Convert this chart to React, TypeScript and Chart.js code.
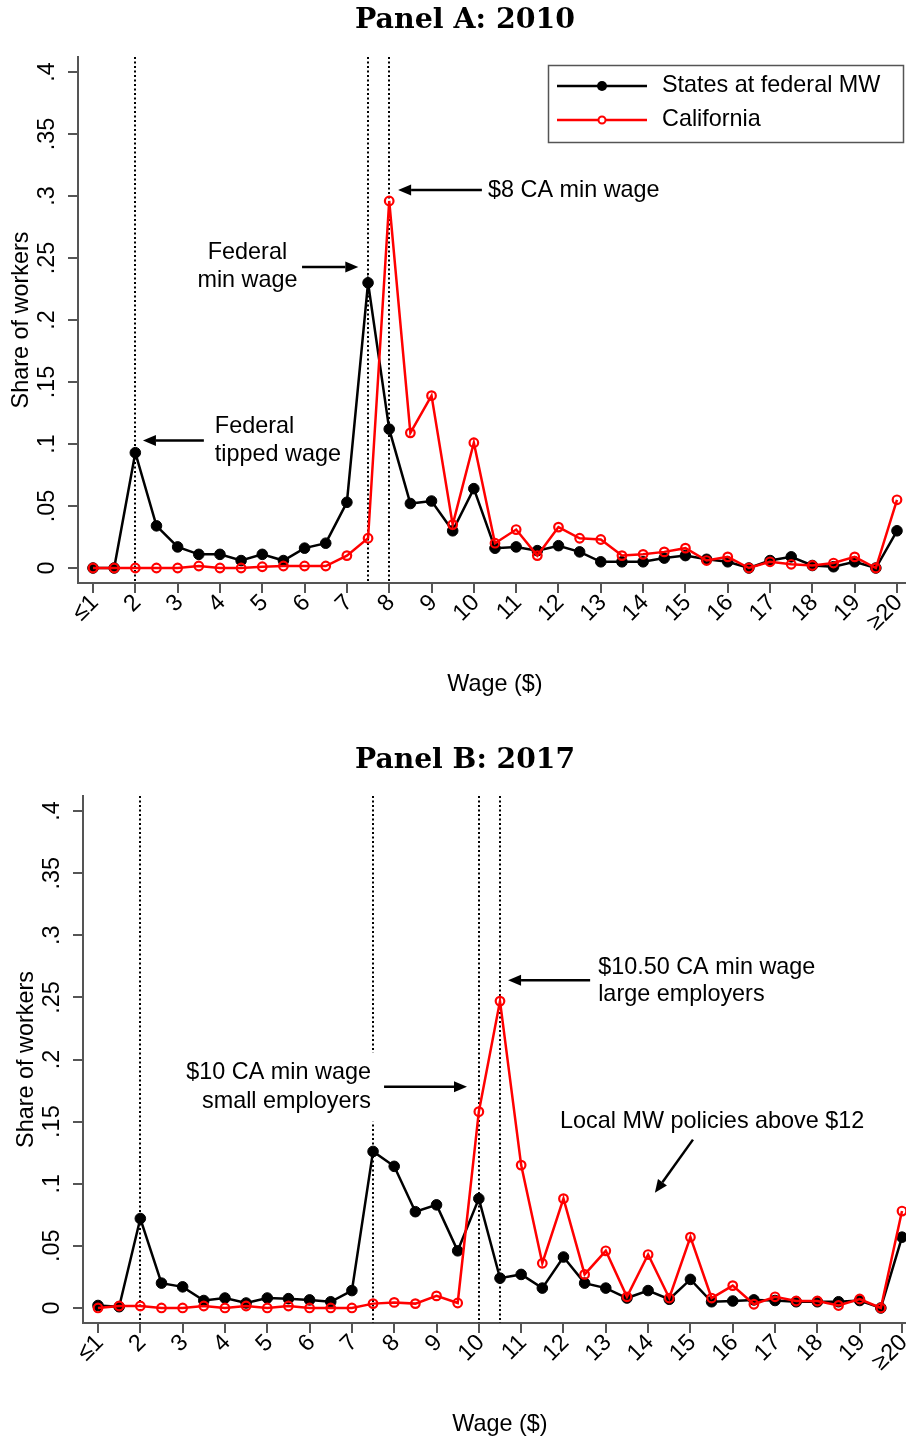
import React, { useEffect, useRef } from "react";
import { Chart, registerables } from "chart.js";

Chart.register(...registerables);

// ---------- data ----------
const wages = [1, 1.5, 2, 2.5, 3, 3.5, 4, 4.5, 5, 5.5, 6, 6.5, 7, 7.5, 8, 8.5, 9, 9.5, 10, 10.5, 11, 11.5, 12, 12.5, 13, 13.5, 14, 14.5, 15, 15.5, 16, 16.5, 17, 17.5, 18, 18.5, 19, 19.5, 20];

const tickWages = [1, 2, 3, 4, 5, 6, 7, 8, 9, 10, 11, 12, 13, 14, 15, 16, 17, 18, 19, 20];
const tickLabels = ["≤1", "2", "3", "4", "5", "6", "7", "8", "9", "10", "11", "12", "13", "14", "15", "16", "17", "18", "19", "≥20"];

const yTicks = [0, 0.05, 0.1, 0.15, 0.2, 0.25, 0.3, 0.35, 0.4];
const yTickLabels = ["0", ".05", ".1", ".15", ".2", ".25", ".3", ".35", ".4"];

const federal2010 = [0.0, 0.0, 0.093, 0.034, 0.017, 0.011, 0.011, 0.006, 0.011, 0.006, 0.016, 0.020, 0.053, 0.230, 0.112, 0.052, 0.054, 0.030, 0.064, 0.016, 0.017, 0.014, 0.018, 0.013, 0.005, 0.005, 0.005, 0.008, 0.010, 0.007, 0.005, 0.0, 0.006, 0.009, 0.002, 0.001, 0.005, 0.0, 0.030];
const california2010 = [0.0, 0.0, 0.0, 0.0, 0.0, 0.0016, 0.0, 0.0, 0.001, 0.0016, 0.0016, 0.0016, 0.010, 0.024, 0.296, 0.109, 0.139, 0.035, 0.101, 0.020, 0.031, 0.010, 0.033, 0.024, 0.023, 0.010, 0.011, 0.013, 0.016, 0.006, 0.009, 0.0, 0.005, 0.003, 0.002, 0.004, 0.009, 0.0, 0.055];

const federal2017 = [0.002, 0.001, 0.072, 0.020, 0.017, 0.006, 0.008, 0.004, 0.008, 0.0075, 0.0065, 0.005, 0.014, 0.126, 0.114, 0.0775, 0.083, 0.046, 0.088, 0.024, 0.027, 0.016, 0.041, 0.020, 0.016, 0.008, 0.014, 0.007, 0.023, 0.005, 0.0056, 0.0065, 0.006, 0.005, 0.005, 0.005, 0.006, 0.0, 0.057];
const california2017 = [0.0, 0.0016, 0.0016, 0.0, 0.0, 0.0016, 0.0, 0.0016, 0.0, 0.0016, 0.0, 0.0, 0.0, 0.0035, 0.0045, 0.0035, 0.0097, 0.004, 0.158, 0.247, 0.115, 0.036, 0.088, 0.027, 0.046, 0.009, 0.043, 0.008, 0.057, 0.008, 0.018, 0.003, 0.009, 0.0056, 0.0056, 0.002, 0.0072, 0.0, 0.078];

const seriesNames = ["States at federal MW", "California"];
const vlines2010 = [2, 7.5, 8];
const vlines2017 = [2, 7.5, 10, 10.5];

type Note = {
  lines: string[];
  x: number;
  y: number[];
  align: CanvasTextAlign;
  from: [number, number];
  to: [number, number];
  box?: boolean;
};

const notes2010: Note[] = [
  { lines: ["$8 CA min wage"], x: 10.334, y: [0.3048], align: "left", from: [10.19, 0.3048], to: [8.21, 0.3048] },
  { lines: ["Federal", "min wage"], x: 4.65, y: [0.254, 0.232], align: "center", from: [5.94, 0.2427], to: [7.27, 0.2427] },
  { lines: ["Federal", "tipped wage"], x: 3.88, y: [0.1137, 0.0911], align: "left", from: [3.62, 0.1028], to: [2.18, 0.1028] },
];
const notes2017: Note[] = [
  { lines: ["$10.50 CA min wage", "large employers"], x: 12.82, y: [0.274, 0.2524], align: "left", from: [12.63, 0.2637], to: [10.69, 0.2637] },
  { lines: ["$10 CA min wage", "small employers"], x: 7.45, y: [0.1895, 0.166], align: "right", from: [7.76, 0.178], to: [9.72, 0.178], box: true },
  { lines: ["Local MW policies above $12"], x: 11.92, y: [0.15], align: "left", from: [15.06, 0.1355], to: [14.16, 0.0927] },
];

// ---------- styling ----------
const AXIS = "#555555";
const FONT = "23.4px 'Liberation Sans', Arial, sans-serif";
const TITLE_FONT = "bold 27.5px 'DejaVu Serif', serif";
const RED = "#ff0000";
const X_MIN = 0.6455;
const X_MAX = 20.3545;
const Y_MIN = -0.0121;
const Y_MAX = 0.4121;

type PanelProps = {
  title: string;
  federal: number[];
  california: number[];
  vlines: number[];
  notes: Note[];
  legend: boolean;
  width: number;
  height: number;
  top: number;
  plotLeft: number;
  plotTop: number;
  plotRight: number;
  plotBottom: number;
};

function drawArrow(ctx: CanvasRenderingContext2D, x1: number, y1: number, x2: number, y2: number) {
  const ang = Math.atan2(y2 - y1, x2 - x1);
  const headLen = 13;
  const headHalf = 5.5;
  const bx = x2 - headLen * Math.cos(ang);
  const by = y2 - headLen * Math.sin(ang);
  ctx.save();
  ctx.strokeStyle = "#000";
  ctx.fillStyle = "#000";
  ctx.lineWidth = 2.5;
  ctx.beginPath();
  ctx.moveTo(x1, y1);
  ctx.lineTo(bx, by);
  ctx.stroke();
  ctx.beginPath();
  ctx.moveTo(x2, y2);
  ctx.lineTo(bx + headHalf * Math.sin(ang), by - headHalf * Math.cos(ang));
  ctx.lineTo(bx - headHalf * Math.sin(ang), by + headHalf * Math.cos(ang));
  ctx.closePath();
  ctx.fill();
  ctx.restore();
}

function Panel(p: PanelProps) {
  const ref = useRef<HTMLCanvasElement | null>(null);

  useEffect(() => {
    if (!ref.current) return;

    const overlay = {
      id: "overlay",
      beforeDatasetsDraw(chart: any) {
        const { ctx, chartArea, scales } = chart;
        const xs = scales.x;
        const ys = scales.y;
        ctx.save();
        ctx.strokeStyle = "#000";
        ctx.lineWidth = 2;
        ctx.setLineDash([2, 2.5]);
        for (const v of p.vlines) {
          const px = Math.round(xs.getPixelForValue(v));
          ctx.beginPath();
          ctx.moveTo(px, chartArea.top);
          ctx.lineTo(px, chartArea.bottom);
          ctx.stroke();
        }
        ctx.restore();
        // white boxes behind some notes
        ctx.save();
        ctx.font = FONT;
        for (const n of p.notes) {
          if (!n.box) continue;
          const w = Math.max(...n.lines.map((l) => ctx.measureText(l).width));
          const ax = xs.getPixelForValue(n.x);
          let left = ax;
          if (n.align === "right") left = ax - w;
          else if (n.align === "center") left = ax - w / 2;
          const yTop = ys.getPixelForValue(n.y[0]) - 20;
          const yBot = ys.getPixelForValue(n.y[n.y.length - 1]) + 20;
          ctx.fillStyle = "#fff";
          ctx.fillRect(left - 6, yTop, w + 12, yBot - yTop);
        }
        ctx.restore();
      },
      afterDraw(chart: any) {
        const { ctx, chartArea, scales } = chart;
        const xs = scales.x;
        const ys = scales.y;
        ctx.save();
        ctx.fillStyle = "#000";

        // Title
        ctx.font = TITLE_FONT;
        const tw = ctx.measureText(p.title).width;
        ctx.save();
        ctx.translate(465, 21);
        ctx.scale(220 / tw, 1);
        ctx.textAlign = "center";
        ctx.textBaseline = "middle";
        ctx.fillText(p.title, 0, 0);
        ctx.restore();

        ctx.font = FONT;
        // y tick labels
        yTicks.forEach((v, i) => {
          const py = ys.getPixelForValue(v);
          ctx.save();
          ctx.translate(chartArea.left - 30, py);
          ctx.rotate(-Math.PI / 2);
          ctx.textAlign = "center";
          ctx.textBaseline = "middle";
          ctx.fillText(yTickLabels[i], 0, 0);
          ctx.restore();
        });
        // x tick labels
        tickWages.forEach((v, i) => {
          const px = xs.getPixelForValue(v);
          ctx.save();
          ctx.translate(px + 2, chartArea.bottom + 16);
          ctx.rotate(-Math.PI / 4);
          ctx.textAlign = "right";
          ctx.textBaseline = "middle";
          ctx.fillText(tickLabels[i], 0, 0);
          ctx.restore();
        });
        // y title
        ctx.save();
        ctx.translate(chartArea.left - 56, (chartArea.top + chartArea.bottom) / 2);
        ctx.rotate(-Math.PI / 2);
        ctx.textAlign = "center";
        ctx.textBaseline = "middle";
        ctx.fillText("Share of workers", 0, 0);
        ctx.restore();
        // x title
        ctx.textAlign = "center";
        ctx.textBaseline = "middle";
        ctx.fillText("Wage ($)", (chartArea.left + chartArea.right) / 2, chartArea.bottom + 102);

        // notes
        for (const n of p.notes) {
          ctx.textAlign = n.align;
          ctx.textBaseline = "middle";
          const ax = xs.getPixelForValue(n.x);
          n.lines.forEach((l, i) => {
            ctx.fillText(l, ax, ys.getPixelForValue(n.y[i]));
          });
          drawArrow(
            ctx,
            xs.getPixelForValue(n.from[0]),
            ys.getPixelForValue(n.from[1]),
            xs.getPixelForValue(n.to[0]),
            ys.getPixelForValue(n.to[1])
          );
        }

        // legend
        if (p.legend) {
          ctx.strokeStyle = AXIS;
          ctx.lineWidth = 1.5;
          ctx.strokeRect(548.5, 65.5, 355, 77);
          const rows = [86, 120];
          const colors = ["#000", RED];
          rows.forEach((ry, i) => {
            ctx.strokeStyle = colors[i];
            ctx.lineWidth = 2.5;
            ctx.beginPath();
            ctx.moveTo(557, ry);
            ctx.lineTo(647, ry);
            ctx.stroke();
            ctx.beginPath();
            if (i === 0) {
              ctx.fillStyle = "#000";
              ctx.arc(602, ry, 5, 0, Math.PI * 2);
              ctx.fill();
            } else {
              ctx.fillStyle = "#fff";
              ctx.lineWidth = 2;
              ctx.arc(602, ry, 3.5, 0, Math.PI * 2);
              ctx.fill();
              ctx.stroke();
            }
            ctx.fillStyle = "#000";
            ctx.textAlign = "left";
            ctx.textBaseline = "middle";
            ctx.fillText(seriesNames[i], 662, ry);
          });
        }
        ctx.restore();
      },
    };

    const chart = new Chart(ref.current, {
      type: "line",
      data: {
        datasets: [
          {
            label: seriesNames[0],
            data: wages.map((w, i) => ({ x: w, y: p.federal[i] })),
            borderColor: "#000",
            backgroundColor: "#000",
            borderWidth: 2.5,
            pointRadius: 5.3,
            pointBorderWidth: 1,
            pointBackgroundColor: "#000",
            pointBorderColor: "#000",
            tension: 0,
            order: 2,
          },
          {
            label: seriesNames[1],
            data: wages.map((w, i) => ({ x: w, y: p.california[i] })),
            borderColor: RED,
            backgroundColor: "rgba(0,0,0,0)",
            borderWidth: 2.5,
            pointRadius: 4.3,
            pointBorderWidth: 2.2,
            pointBackgroundColor: "rgba(0,0,0,0)",
            pointBorderColor: RED,
            tension: 0,
            order: 1,
          },
        ],
      },
      options: {
        responsive: false,
        animation: false,
        devicePixelRatio: 1,
        layout: {
          padding: { top: p.plotTop, right: p.width - p.plotRight, left: 0, bottom: 0 },
        },
        plugins: {
          legend: { display: false },
          tooltip: { enabled: false },
          title: { display: false },
        },
        scales: {
          x: {
            type: "linear",
            min: X_MIN,
            max: X_MAX,
            afterBuildTicks: (s: any) => {
              s.ticks = tickWages.map((v) => ({ value: v }));
            },
            afterFit: (s: any) => {
              s.height = p.height - p.plotBottom;
            },
            ticks: { display: false },
            grid: { display: true, drawOnChartArea: false, drawTicks: true, tickLength: 10, color: AXIS, lineWidth: 2 },
            border: { display: true, color: AXIS, width: 2 },
          },
          y: {
            type: "linear",
            min: Y_MIN,
            max: Y_MAX,
            afterBuildTicks: (s: any) => {
              s.ticks = yTicks.map((v) => ({ value: v }));
            },
            afterFit: (s: any) => {
              s.width = p.plotLeft;
            },
            ticks: { display: false },
            grid: { display: true, drawOnChartArea: false, drawTicks: true, tickLength: 10, color: AXIS, lineWidth: 2 },
            border: { display: true, color: AXIS, width: 2 },
          },
        },
      },
      plugins: [overlay],
    } as any);

    return () => chart.destroy();
  }, []);

  return (
    <canvas
      ref={ref}
      width={p.width}
      height={p.height}
      style={{ position: "absolute", left: 0, top: p.top, width: p.width, height: p.height }}
    />
  );
}

export default function App() {
  return (
    <div
      style={{
        position: "absolute",
        left: 0,
        top: 0,
        width: 906,
        height: 1439,
        overflow: "hidden",
        background: "#fff",
      }}
    >
      <Panel
        title="Panel A: 2010"
        federal={federal2010}
        california={california2010}
        vlines={vlines2010}
        notes={notes2010}
        legend={true}
        width={930}
        height={720}
        top={0}
        plotLeft={78}
        plotTop={57}
        plotRight={912}
        plotBottom={583}
      />
      <Panel
        title="Panel B: 2017"
        federal={federal2017}
        california={california2017}
        vlines={vlines2017}
        notes={notes2017}
        legend={false}
        width={930}
        height={699}
        top={740}
        plotLeft={83}
        plotTop={56}
        plotRight={917}
        plotBottom={583}
      />
    </div>
  );
}
